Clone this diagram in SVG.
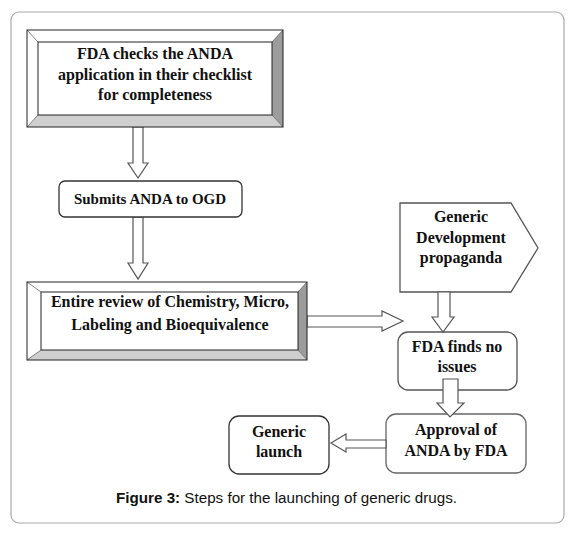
<svg xmlns="http://www.w3.org/2000/svg" width="576" height="534" viewBox="0 0 576 534">
<style>
.t{font-family:"Liberation Serif","Times New Roman",serif;font-weight:bold;font-size:16px;fill:#111;text-anchor:middle}
.box{fill:#fff;stroke:#333;stroke-width:1.3}
.arr{fill:#fff;stroke:#555;stroke-width:1.2;stroke-linejoin:miter}
.lt{fill:#fff}
.dk{fill:#9c9c9c}
.md{fill:#cfcfcf}
.edge{fill:none;stroke:#222;stroke-width:1}
.diag{stroke:#666;stroke-width:0.8}
.cap{font-family:"Liberation Sans",Arial,sans-serif;font-size:15.2px;fill:#111}
</style>
<rect x="11" y="12" width="553" height="511" rx="8" fill="#fff" stroke="#aaa" stroke-width="1.2"/>
<g id="connectors">
<polygon class="arr" points="133,127 143,127 143,163 148,163 138,178 128,163 133,163"/>
<polygon class="arr" points="133,217 143,217 143,263 148,263 138,279 128,263 133,263"/>
<polygon class="arr" points="307,316 382,316 382,311 403,321 382,331 382,327 307,327"/>
</g>
<g id="n1">
<polygon class="lt" points="27,30 283,30 272,42 38,42"/>
<polygon class="lt" points="27,30 38,42 38,115 27,127"/>
<polygon class="dk" points="283,30 283,127 272,115 272,42"/>
<polygon class="md" points="27,127 38,115 272,115 283,127"/>
<line class="diag" x1="27" y1="30" x2="38" y2="42"/>
<line class="diag" x1="283" y1="30" x2="272" y2="42"/>
<line class="diag" x1="27" y1="127" x2="38" y2="115"/>
<line class="diag" x1="283" y1="127" x2="272" y2="115"/>
<rect class="edge" x="27" y="30" width="256" height="97"/>
<rect class="edge" x="38" y="42" width="234" height="73"/>
<text class="t" x="155" y="59">FDA checks the ANDA</text>
<text class="t" x="155" y="80">application in their checklist</text>
<text class="t" x="155" y="100">for completeness</text>
</g>
<g id="n2">
<rect class="box" x="59" y="181" width="183" height="36" rx="6"/>
<text class="t" x="150" y="204" style="font-size:15px">Submits ANDA to OGD</text>
</g>
<g id="n3">
<polygon class="lt" points="27,282 307,282 298,292 41,292"/>
<polygon class="lt" points="27,282 41,292 41,350 27,360"/>
<polygon class="dk" points="307,282 307,360 298,350 298,292"/>
<polygon class="md" points="27,360 41,350 298,350 307,360"/>
<line class="diag" x1="27" y1="282" x2="41" y2="292"/>
<line class="diag" x1="307" y1="282" x2="298" y2="292"/>
<line class="diag" x1="27" y1="360" x2="41" y2="350"/>
<line class="diag" x1="307" y1="360" x2="298" y2="350"/>
<rect class="edge" x="27" y="282" width="280" height="78"/>
<rect class="edge" x="41" y="292" width="257" height="58"/>
<text class="t" x="170" y="307">Entire review of Chemistry, Micro,</text>
<text class="t" x="170" y="330">Labeling and Bioequivalence</text>
</g>
<g id="n4">
<polygon class="box" points="400,203 511,203 538,248 511,292 400,292" style="stroke:#555"/>
<text class="t" x="461" y="222">Generic</text>
<text class="t" x="461" y="243">Development</text>
<text class="t" x="461" y="263">propaganda</text>
</g>
<g id="n5">
<rect class="box" x="398" y="332" width="119" height="58" rx="10" style="stroke:#555"/>
<text class="t" x="457" y="352">FDA finds no</text>
<text class="t" x="457" y="372">issues</text>
</g>
<g id="n6">
<rect class="box" x="386" y="414" width="140" height="59" rx="10" style="stroke:#666"/>
<text class="t" x="456" y="435">Approval of</text>
<text class="t" x="456" y="456">ANDA by FDA</text>
</g>
<g id="n7">
<rect class="box" x="229" y="416" width="100" height="58" rx="10"/>
<text class="t" x="279" y="437">Generic</text>
<text class="t" x="279" y="457">launch</text>
</g>
<g id="connectors2">
<polygon class="arr" points="438,292 450,292 450,317 454,317 443,332 432,317 438,317"/>
<polygon class="arr" points="443,379 458,379 458,403 464,403 450,417 437,403 443,403"/>
<polygon class="arr" points="386,440 346,440 346,434 331,443 346,452 346,448 386,448"/>
</g>
<text class="cap" x="116" y="503"><tspan font-weight="bold">Figure 3:</tspan> Steps for the launching of generic drugs.</text>
</svg>
